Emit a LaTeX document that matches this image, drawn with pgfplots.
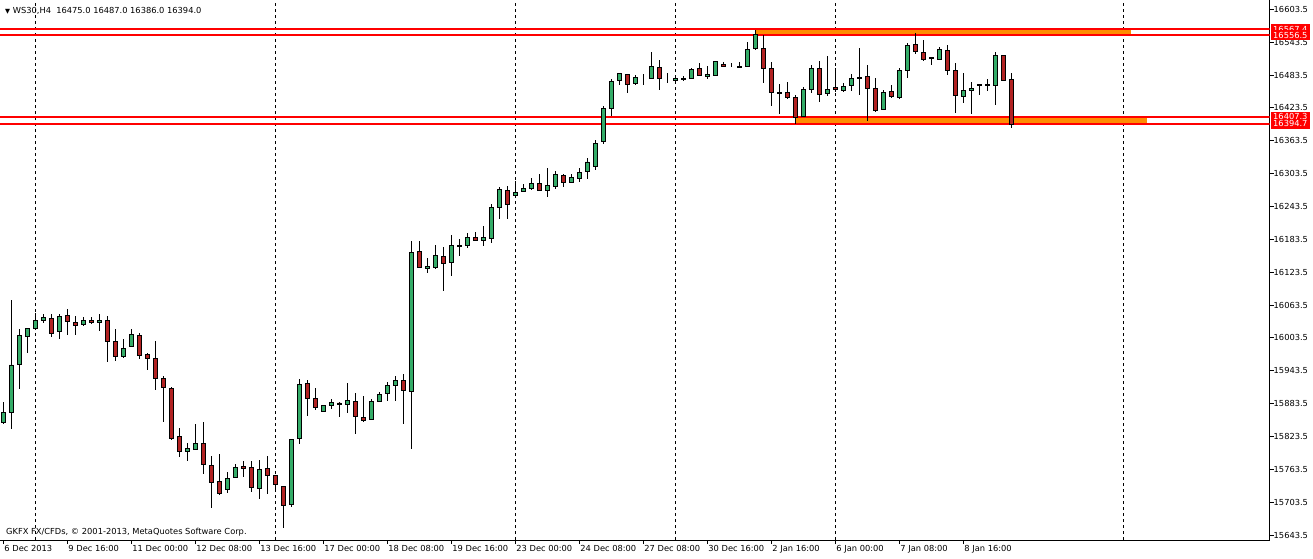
\documentclass[border=0pt]{standalone}
\usepackage{pgfplots}
\pgfplotsset{compat=1.18}
\usepackage{pgfplotstable}
\usepackage{fontspec}
\setmainfont{DejaVu Sans}
\definecolor{bull}{RGB}{52,172,104}
\definecolor{bear}{RGB}{178,34,34}
\definecolor{zone}{RGB}{255,140,0}
\newcommand\f{\fontsize{8.3}{9.8}\selectfont}

\pgfplotstableread{
i o h l c
0 15849.3 15885.8 15845.7 15867.6
1 15867.6 16072.7 15836.5 15954.0
2 15955.2 16019.1 15910.1 16008.7
3 16006.4 16022.0 15975.3 16021.0
4 16021.0 16048.4 16020.0 16035.6
5 16035.6 16047.1 16031.2 16041.1
6 16039.2 16047.1 16005.6 16011.8
7 16015.5 16047.1 16002.0 16042.9
8 16044.7 16056.2 16009.3 16033.8
9 16031.9 16042.9 16009.3 16026.5
10 16028.3 16041.1 16024.6 16035.6
11 16035.6 16041.1 16028.3 16031.9
12 16031.9 16047.1 16016.6 16035.6
13 16035.6 16042.9 15960.0 15997.2
14 15997.2 16019.1 15961.8 15969.8
15 15969.8 16000.9 15966.2 15984.5
16 15988.1 16019.1 15987.0 16010.0
17 16008.2 16011.8 15965.5 15971.7
18 15973.5 15975.3 15945.4 15966.2
19 15966.2 15997.2 15908.8 15929.7
20 15929.7 15933.3 15850.4 15913.2
21 15911.4 15913.2 15817.5 15819.4
22 15823.0 15838.4 15786.5 15796.4
23 15796.4 15811.0 15779.2 15801.8
24 15800.0 15845.7 15799.0 15811.0
25 15811.0 15849.3 15755.4 15771.9
26 15770.8 15787.2 15693.4 15739.0
27 15741.6 15790.9 15717.1 15718.9
28 15727.0 15758.0 15720.7 15747.0
29 15748.9 15772.6 15747.0 15767.1
30 15769.0 15778.1 15748.9 15765.3
31 15767.1 15778.1 15722.6 15730.6
32 15728.8 15779.9 15709.8 15763.5
33 15765.3 15787.2 15718.9 15752.5
34 15752.5 15753.0 15724.4 15736.1
35 15732.4 15733.0 15656.8 15697.7
36 15698.8 15819.0 15695.2 15818.3
37 15819.0 15927.8 15810.2 15918.7
38 15920.5 15926.0 15861.4 15893.1
39 15893.1 15911.4 15871.2 15876.7
40 15869.4 15881.0 15867.6 15880.4
41 15880.4 15891.3 15873.1 15885.8
42 15884.6 15885.8 15859.5 15882.7
43 15882.2 15920.5 15865.7 15889.5
44 15887.7 15902.3 15828.5 15860.3
45 15858.4 15896.8 15849.3 15853.0
46 15854.8 15891.3 15853.0 15887.7
47 15887.7 15904.1 15887.0 15900.4
48 15902.3 15922.4 15887.7 15916.9
49 15916.9 15933.3 15887.7 15926.0
50 15926.0 15937.0 15846.8 15907.7
51 15905.9 16179.9 15801.1 16159.8
52 16161.6 16179.9 16130.5 16132.4
53 16130.5 16148.8 16121.4 16134.2
54 16132.4 16172.6 16128.7 16154.3
55 16152.5 16168.9 16089.6 16139.7
56 16141.5 16190.8 16117.0 16172.6
57 16170.7 16183.5 16153.6 16171.5
58 16172.6 16194.5 16167.1 16187.2
59 16187.2 16196.3 16179.9 16181.7
60 16181.7 16207.2 16170.7 16187.2
61 16185.3 16247.4 16176.2 16241.9
62 16241.9 16278.5 16220.0 16274.8
63 16273.0 16280.3 16220.0 16247.4
64 16263.9 16289.4 16262.0 16269.3
65 16271.2 16284.0 16269.3 16276.6
66 16276.6 16294.9 16273.0 16285.8
67 16285.8 16302.2 16271.2 16273.0
68 16273.0 16313.7 16260.2 16282.1
69 16280.3 16308.2 16274.8 16302.2
70 16300.4 16302.2 16278.5 16287.6
71 16287.6 16302.2 16287.0 16296.7
72 16294.9 16313.7 16287.6 16305.9
73 16307.7 16332.0 16293.6 16324.7
74 16317.4 16364.8 16310.1 16358.8
75 16362.5 16426.4 16358.0 16422.7
76 16422.7 16475.7 16408.1 16472.0
77 16473.9 16487.5 16464.7 16486.7
78 16484.8 16485.5 16450.1 16466.6
79 16468.4 16483.0 16464.7 16479.4
80 16477.5 16484.8 16464.7 16477.5
81 16477.5 16525.0 16475.7 16499.4
82 16497.6 16510.4 16455.6 16477.5
83 16477.5 16486.7 16468.4 16477.5
84 16473.9 16481.2 16470.2 16477.5
85 16476.0 16481.2 16472.0 16477.0
86 16477.5 16495.8 16475.7 16494.0
87 16495.8 16504.9 16481.2 16483.0
88 16481.2 16499.4 16475.7 16484.8
89 16483.0 16509.5 16481.2 16508.6
90 16503.1 16506.8 16497.6 16499.4
91 16499.4 16504.9 16497.6 16499.4
92 16499.4 16506.8 16495.8 16497.6
93 16499.4 16543.3 16497.6 16530.5
94 16532.3 16566.0 16530.0 16557.9
95 16532.3 16556.1 16468.4 16495.8
96 16495.8 16506.8 16426.4 16452.0
97 16452.0 16466.6 16411.8 16450.1
98 16452.0 16470.2 16439.2 16442.8
99 16442.8 16446.5 16394.7 16406.3
100 16408.1 16461.1 16406.3 16457.4
101 16457.4 16501.3 16450.1 16495.8
102 16495.8 16508.6 16433.7 16448.3
103 16450.1 16517.7 16444.7 16457.4
104 16461.1 16495.8 16452.0 16457.4
105 16455.6 16468.4 16452.0 16462.9
106 16464.7 16484.8 16453.8 16477.5
107 16479.4 16532.3 16446.5 16477.5
108 16481.2 16501.3 16399.0 16459.3
109 16459.3 16477.5 16415.4 16419.1
110 16420.9 16455.6 16419.1 16452.0
111 16453.8 16464.7 16441.0 16444.7
112 16442.8 16495.8 16439.2 16492.1
113 16492.1 16541.4 16477.5 16537.8
114 16539.6 16559.7 16521.4 16526.8
115 16525.0 16546.9 16508.6 16512.2
116 16515.9 16516.5 16501.3 16514.0
117 16512.2 16534.1 16510.4 16530.5
118 16528.7 16537.8 16483.0 16492.1
119 16492.1 16504.9 16413.6 16446.5
120 16444.7 16486.7 16431.9 16455.6
121 16455.6 16470.2 16411.8 16459.3
122 16466.6 16467.0 16446.5 16464.7
123 16464.7 16475.7 16453.8 16466.6
124 16464.7 16525.0 16428.2 16519.5
125 16519.5 16520.0 16473.0 16473.9
126 16475.0 16487.0 16386.0 16394.0
}\candles

\pgfplotsset{
  chartbase/.style={
    scale only axis, width=1269.5pt, height=540pt,
    xmin=-0.41, xmax=158.29, ymin=15634.4, ymax=16620.5,
  }
}

\begin{document}
\begin{tikzpicture}
\begin{axis}[chartbase,
  axis x line*=bottom, axis y line*=right,
  axis line style={-, black, line width=1pt},
  tick align=outside, major tick length=4pt,
  tick style={black, line width=0.8pt},
  xtick={0,8,16,24,32,40,48,56,64,72,80,88,96,104,112,120},
  xticklabels={6 Dec 2013, 9 Dec 16:00, 11 Dec 00:00, 12 Dec 08:00, 13 Dec 16:00, 17 Dec 00:00, 18 Dec 08:00, 19 Dec 16:00, 23 Dec 00:00, 24 Dec 08:00, 27 Dec 08:00, 30 Dec 16:00, 2 Jan 16:00, 6 Jan 00:00, 7 Jan 08:00, 8 Jan 16:00},
  xticklabel style={anchor=north west, inner sep=0pt, font=\f, xshift=1pt, yshift=-1.5pt},
  ytick={15643.5,15703.5,15763.5,15823.5,15883.5,15943.5,16003.5,16063.5,16123.5,16183.5,16243.5,16303.5,16363.5,16423.5,16483.5,16543.5,16603.5},
  yticklabels={15643.5,15703.5,15763.5,15823.5,15883.5,15943.5,16003.5,16063.5,16123.5,16183.5,16243.5,16303.5,16363.5,16423.5,16483.5,16543.5,16603.5},
  yticklabel style={anchor=west, inner sep=0pt, font=\f},
  extra x ticks={4,34,64,84,104,140},
  extra x tick labels={},
  extra x tick style={grid=major, major tick length=0pt, major grid style={black, line width=0.8pt, dash pattern=on 3pt off 3pt}},
]
\addplot[fill=zone, draw=none] coordinates {(94,16556.5) (141,16556.5) (141,16567.4) (94,16567.4)} -- cycle;
\addplot[fill=zone, draw=none] coordinates {(99,16394.7) (143,16394.7) (143,16407.3) (99,16407.3)} -- cycle;
\addplot[red, line width=2pt] coordinates {(-1,16567.4) (159,16567.4)};
\addplot[red, line width=2pt] coordinates {(-1,16556.5) (159,16556.5)};
\addplot[red, line width=2pt] coordinates {(-1,16407.3) (159,16407.3)};
\addplot[red, line width=2pt] coordinates {(-1,16394.7) (159,16394.7)};
\addplot[draw=none, mark=none, error bars/.cd, y dir=both, y explicit, error mark=none,
  error bar style={draw=black, solid, line width=1pt}]
  table[x=i, y expr={(\thisrow{h}+\thisrow{l})/2}, y error expr={(\thisrow{h}-\thisrow{l})/2}] {\candles};
\coordinate (A) at (axis cs:158.29,16567.4);
\coordinate (B) at (axis cs:158.29,16556.5);
\coordinate (C) at (axis cs:158.29,16407.3);
\coordinate (D) at (axis cs:158.29,16394.7);
\end{axis}
\begin{axis}[chartbase, hide axis, ybar stacked, bar width=3.8pt]
\addplot[draw=none, fill=none] table[x=i, y expr={min(\thisrow{o},\thisrow{c})}] {\candles};
\addplot[fill=bull, draw=black, line width=0.9pt] table[x=i, y expr={max(\thisrow{c}-\thisrow{o},0)}] {\candles};
\addplot[fill=bear, draw=black, line width=0.9pt] table[x=i, y expr={max(\thisrow{o}-\thisrow{c},0)}] {\candles};
\end{axis}
\node[anchor=west, inner sep=0pt, font=\f] at (5pt,529.5pt) {{\fontsize{6.5}{7}\selectfont▼}\ WS30,H4\ \ 16475.0 16487.0 16386.0 16394.0};
\node[anchor=west, inner sep=0pt, font=\f] at (6pt,8pt) {GKFX FX/CFDs, © 2001-2013, MetaQuotes Software Corp.};
\node[fill=red, text=white, anchor=west, inner xsep=2pt, inner ysep=0pt, minimum height=10pt, font=\f] at ([xshift=1.5pt]A) {16567.4};
\node[fill=red, text=white, anchor=west, inner xsep=2pt, inner ysep=0pt, minimum height=10pt, font=\f] at ([xshift=1.5pt]B) {16556.5};
\node[fill=red, text=white, anchor=west, inner xsep=2pt, inner ysep=0pt, minimum height=10pt, font=\f] at ([xshift=1.5pt]C) {16407.3};
\node[fill=red, text=white, anchor=west, inner xsep=2pt, inner ysep=0pt, minimum height=10pt, font=\f] at ([xshift=1.5pt]D) {16394.7};
\pgfresetboundingbox
\path[use as bounding box] (0,-18pt) rectangle (1313pt,540pt);
\end{tikzpicture}
\end{document}
